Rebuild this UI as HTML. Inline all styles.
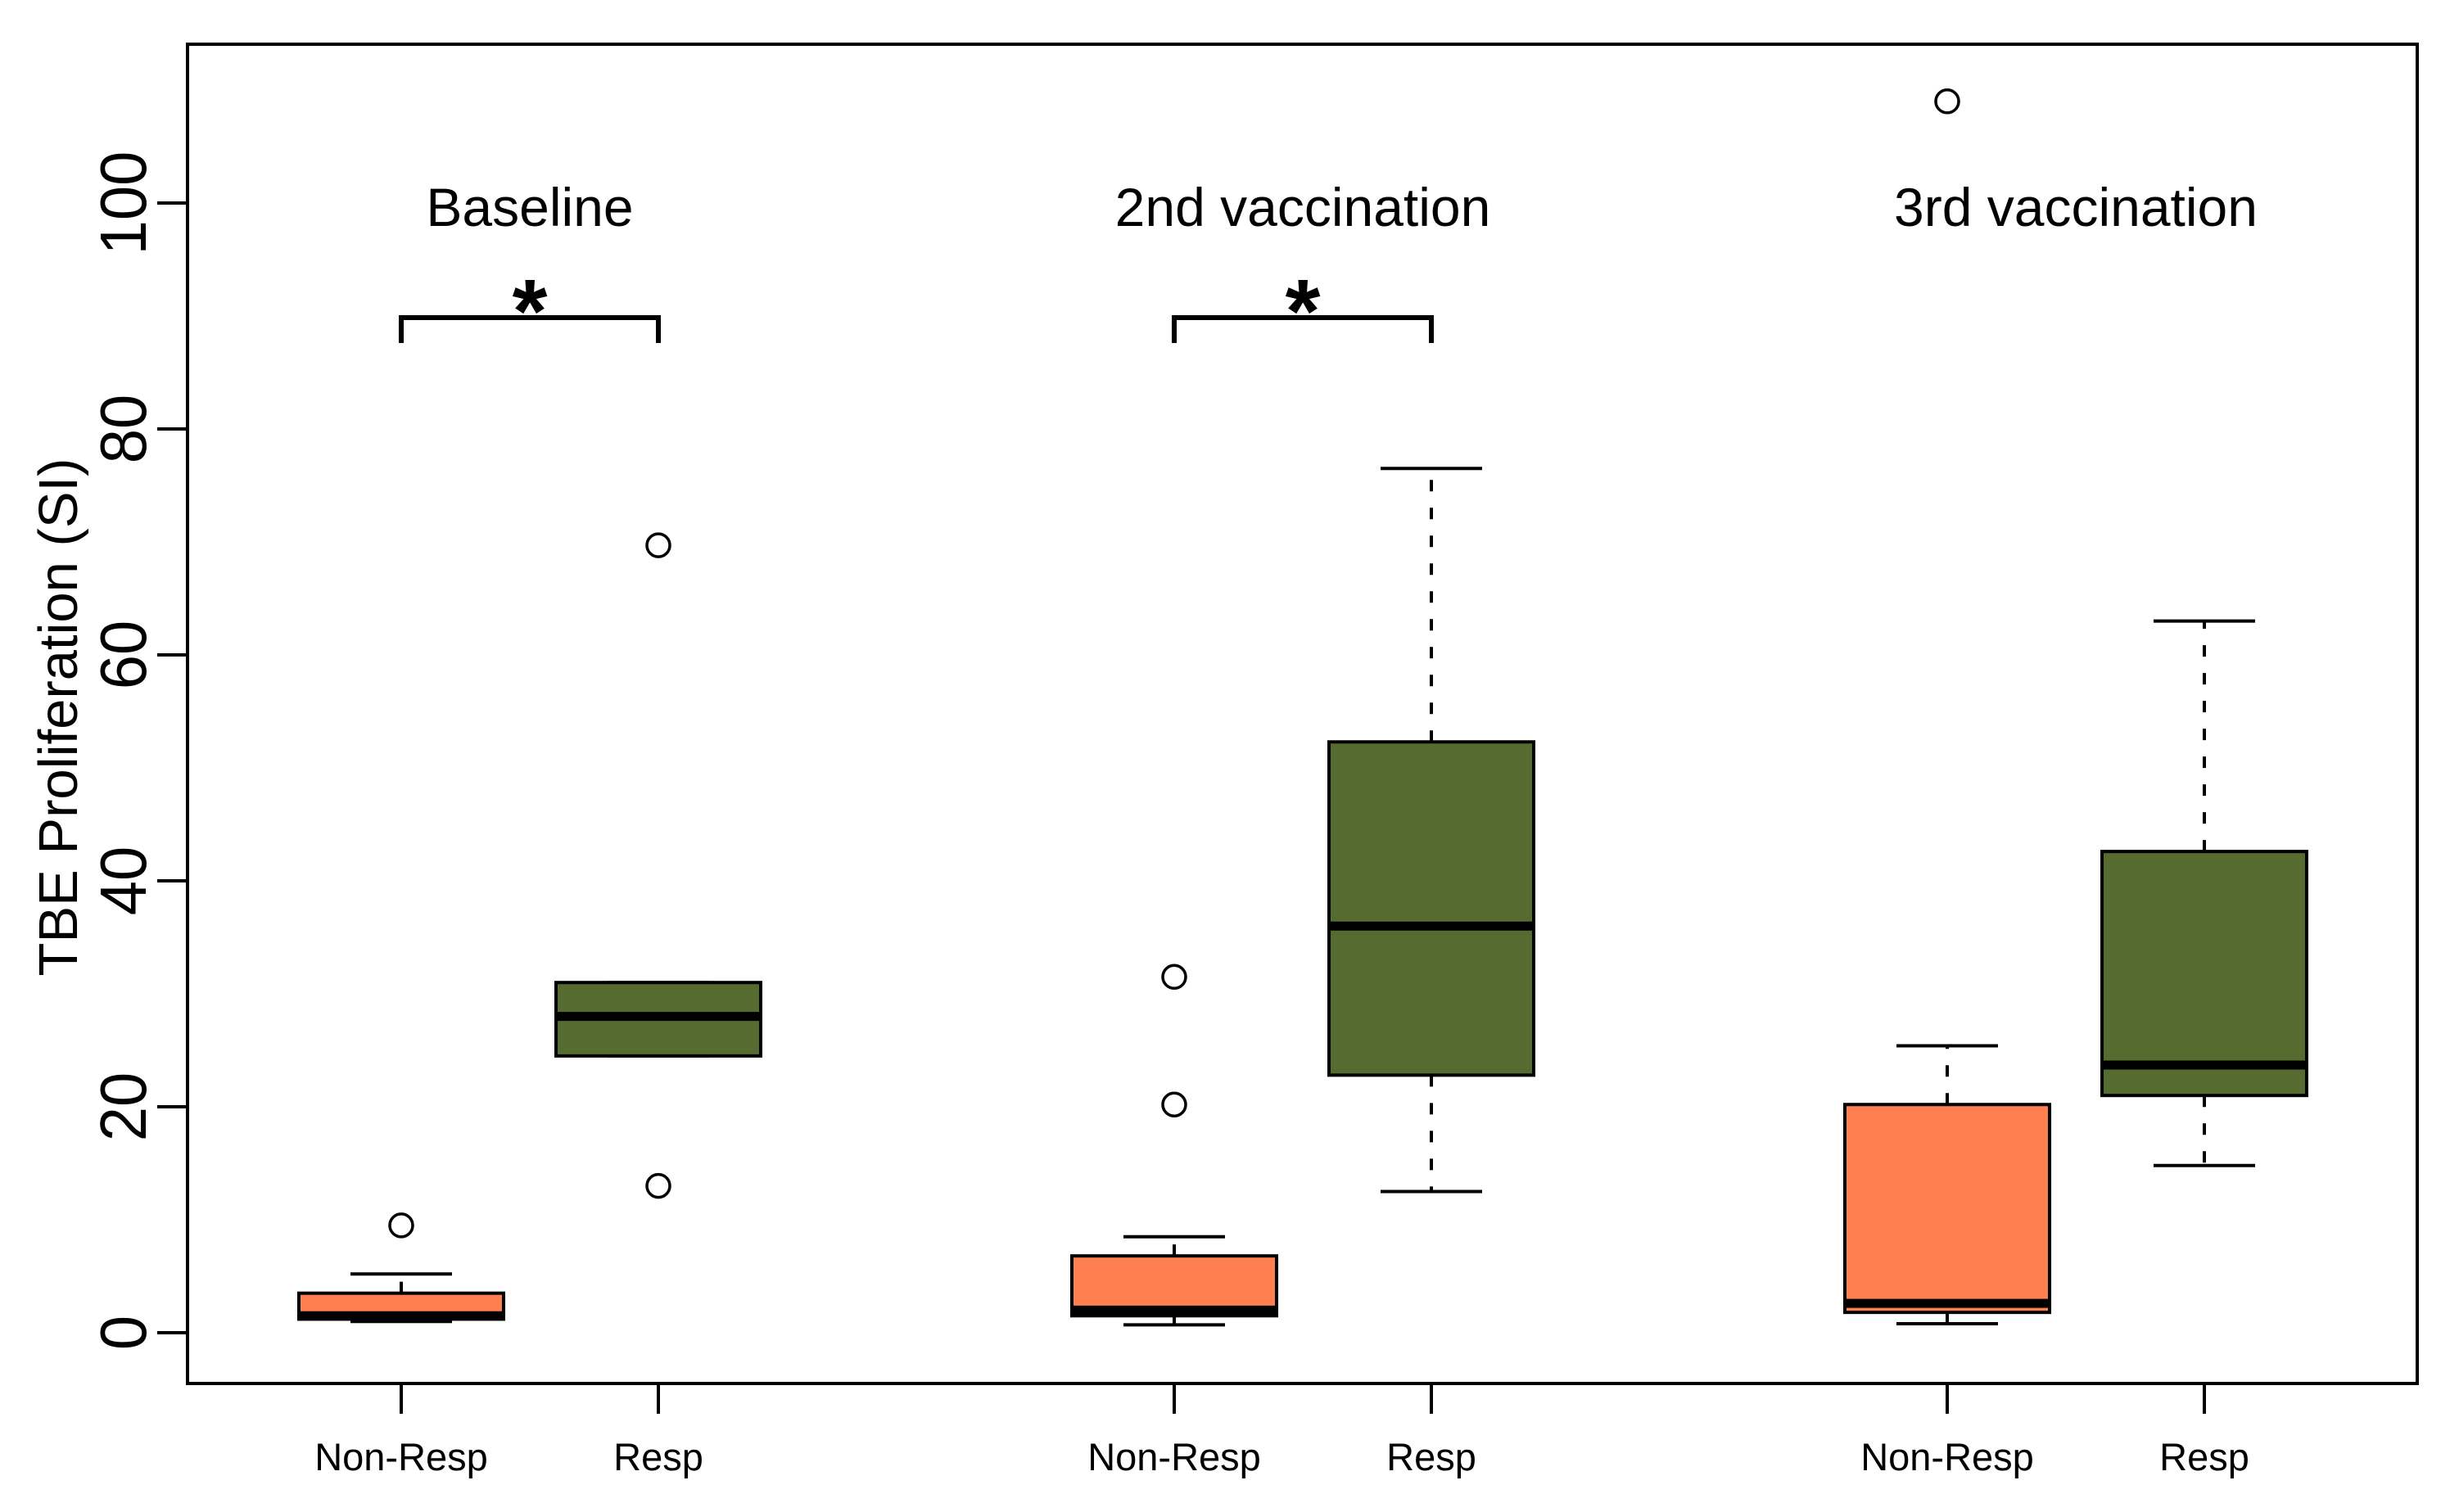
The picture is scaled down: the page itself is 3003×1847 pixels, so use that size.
<!DOCTYPE html>
<html><head><meta charset="utf-8"><style>html,body{margin:0;padding:0;background:#fff}svg{display:block}text{font-family:"Liberation Sans",Arial,sans-serif}</style></head>
<body>
<svg id="chart" width="3003" height="1847" viewBox="0 0 3003 1847" xmlns="http://www.w3.org/2000/svg">
<rect x="229" y="54" width="2723" height="1636" fill="none" stroke="#000" stroke-width="4"/>
<g id="g"></g>
</svg>
<script>
const groupTitles = ["Baseline", "2nd vaccination", "3rd vaccination"];
const categories = ["Non-Resp", "Resp", "Non-Resp", "Resp", "Non-Resp", "Resp"];
const whiskerLow = [1.0, 24.5, 0.7, 12.5, 0.8, 14.8];
const q1 = [1.2, 24.5, 1.5, 22.8, 1.8, 21.0];
const medians = [1.5, 28.0, 2.0, 36.0, 2.6, 23.7];
const q3 = [3.5, 31.0, 6.8, 52.3, 20.2, 42.6];
const whiskerHigh = [5.2, 31.0, 8.5, 76.5, 25.4, 63.0];
const outliers = [[9.5], [69.7, 13.0], [31.5, 20.2], [], [109.0], []];
const yTicks = [0, 20, 40, 60, 80, 100];
const sigPairs = [[0, 1], [2, 3]];
const sigValue = 90;

const NS = "http://www.w3.org/2000/svg";
const g = document.getElementById('g');
const xPos = i => 490 + Math.floor(i / 2) * 944 + (i % 2) * 314;
const y = v => 1628 - v * 13.8;
function el(tag, attrs, parent) {
  const e = document.createElementNS(NS, tag);
  for (const k in attrs) e.setAttribute(k, attrs[k]);
  (parent || g).appendChild(e);
  return e;
}
const colors = ["#FF7F50", "#556B2F"];
yTicks.forEach(t => {
  const l = el('line', {x1: 229, x2: 192, y1: y(t), y2: y(t), stroke: '#000', 'stroke-width': 4});
  
  
  const tx = el('text', {x: 0, y: 0, 'font-size': 80, 'text-anchor': 'middle', transform: `translate(178,${y(t)}) rotate(-90) scale(0.95,1)`});
  tx.textContent = t;
  
  
});
const yt = el('text', {x: 0, y: 0, 'font-size': 67, 'text-anchor': 'middle', transform: 'translate(94,876) rotate(-90)'});
yt.textContent = 'TBE Proliferation (SI)';


categories.forEach((c, i) => {
  const x = xPos(i);
  const tk = el('line', {x1: x, x2: x, y1: 1690, y2: 1727, stroke: '#000', 'stroke-width': 4});
  
  
  const lb = el('text', {x: x, y: 1796, 'font-size': 47, 'text-anchor': 'middle'});
  lb.textContent = c;
  
  
  const wl = el('line', {x1: x, x2: x, y1: y(q3[i]), y2: y(whiskerHigh[i]), stroke: '#000', 'stroke-width': 4, 'stroke-dasharray': '14 20'});
  
  
  const wl2 = el('line', {x1: x, x2: x, y1: y(q1[i]), y2: y(whiskerLow[i]), stroke: '#000', 'stroke-width': 4, 'stroke-dasharray': '14 20'});
  
  
  [whiskerHigh[i], whiskerLow[i]].forEach(v => {
    const cp = el('line', {x1: x - 62, x2: x + 62, y1: y(v), y2: y(v), stroke: '#000', 'stroke-width': 4});
    
    
  });
  const bx = el('rect', {x: x - 125, width: 250, y: y(q3[i]), height: y(q1[i]) - y(q3[i]), fill: colors[i % 2], stroke: '#000', 'stroke-width': 4});
  
  
  const md = el('line', {x1: x - 125, x2: x + 125, y1: y(medians[i]), y2: y(medians[i]), stroke: '#000', 'stroke-width': 11});
  
  
  outliers[i].forEach(v => {
    const o = el('circle', {cx: x, cy: y(v), r: 14, fill: 'none', stroke: '#000', 'stroke-width': 3.5});
    
    
  });
});
groupTitles.forEach((t, k) => {
  const cx = (xPos(2 * k) + xPos(2 * k + 1)) / 2;
  const tx = el('text', {x: cx, y: 276, 'font-size': 66, 'text-anchor': 'middle'});
  tx.textContent = t;
  
  
});
sigPairs.forEach(p => {
  const a = xPos(p[0]), b = xPos(p[1]), yy = y(sigValue) + 2;
  const br = el('path', {d: `M${a},${yy + 31} V${yy} H${b} V${yy + 31}`, fill: 'none', stroke: '#000', 'stroke-width': 6});
  
  
  const st = el('text', {x: (a + b) / 2, y: yy + 30, 'font-size': 110, 'font-weight': 'bold', 'text-anchor': 'middle'});
  st.textContent = '*';
  
  
});
</script>
</body></html>
